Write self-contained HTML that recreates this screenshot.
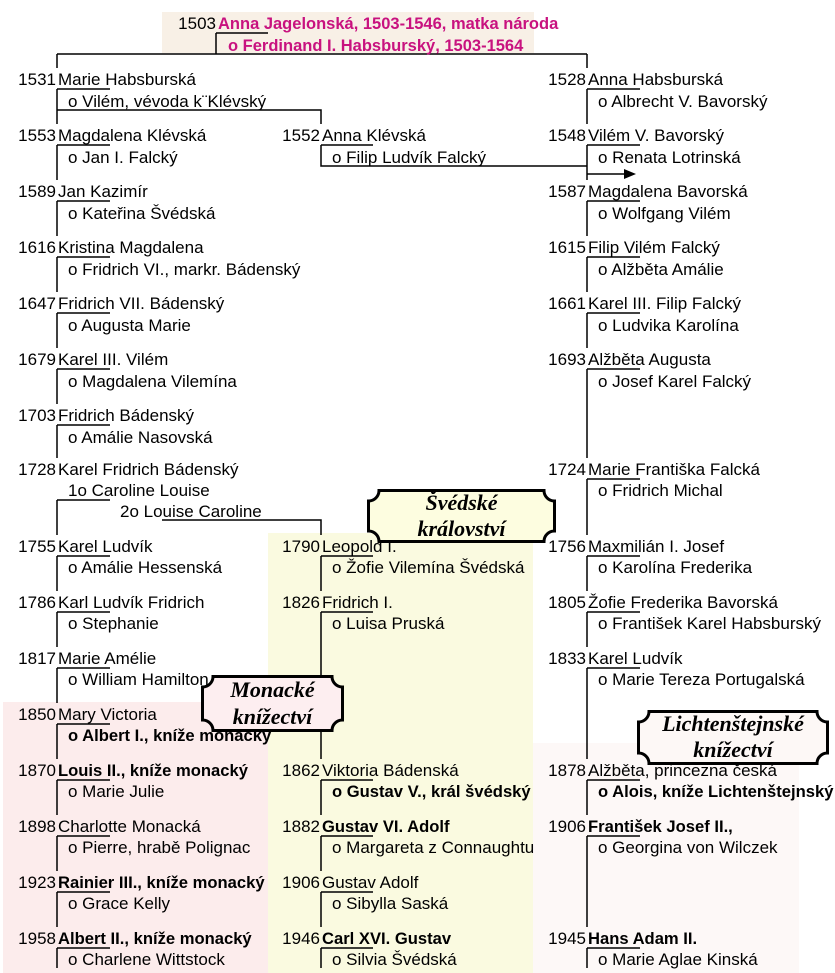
<!DOCTYPE html>
<html><head><meta charset="utf-8">
<style>
body{margin:0;background:#fff;}
#c{position:relative;width:835px;height:973px;overflow:hidden;font-family:"Liberation Sans",sans-serif;font-size:17px;color:#000;}
.t{position:absolute;line-height:20px;white-space:nowrap;margin-top:2px;}
.y{position:absolute;line-height:20px;width:50px;text-align:right;margin-top:2px;}
.b{font-weight:bold;font-size:16.6px;}
.m{color:#c8127f;font-weight:bold;font-size:16.5px;}
.ban{position:absolute;}
.ban div{position:absolute;left:0;width:100%;text-align:center;font-family:"Liberation Serif",serif;font-style:italic;font-weight:bold;font-size:22px;line-height:26px;}
</style></head><body>
<div id="c">
<div style="position:absolute;left:162px;top:12px;width:372px;height:41px;background:#f8f0e6"></div>
<div style="position:absolute;left:268px;top:533px;width:265px;height:440px;background:#fafae0"></div>
<div style="position:absolute;left:3px;top:702px;width:265px;height:271px;background:#fcecec"></div>
<div style="position:absolute;left:533px;top:743px;width:266px;height:230px;background:#fdf8f7"></div>

<svg style="position:absolute;left:0;top:0" width="835" height="973">
<path fill="none" stroke="#000" stroke-width="1.5" d="
M216 33H268M216 33V54M57 54H587M57 54V68M587 54V68
M57 89H110M57 89V124M57 145H110M57 145V180M57 201H110M57 201V236M57 257H110M57 257V292M57 313H110M57 313V348M57 369H110M57 369V404M57 425H110M57 425V458
M57 500H110M57 500V535
M57 556H110M57 556V591M57 612H110M57 612V647M57 668H110M57 668V703M57 724H110M57 724V759M57 780H110M57 780V815M57 836H110M57 836V871M57 892H110M57 892V927M57 948H110M57 948V968
M57 110H321V124M321 145H373M321 145V166H587
M162 520H321V535
M321 556H373M321 556V591M321 612H373M321 612V759M321 780H373M321 780V815M321 836H373M321 836V871M321 892H373M321 892V927M321 948H373M321 948V968
M587 89H640M587 89V124M587 145H640M587 145V180M587 201H640M587 201V236M587 257H640M587 257V292M587 313H640M587 313V348M587 369H640M587 369V458M587 479H640M587 479V535M587 556H640M587 556V591M587 612H640M587 612V647M587 668H640M587 668V759M587 780H640M587 780V815M587 836H640M587 836V927M587 948H640M587 948V968
M587 174H628"/>
<path d="M636 174L624 169V179Z" fill="#000"/>
</svg>

<div class="y" style="left:166px;top:12px">1503</div>
<div class="t m" style="left:218px;top:12px">Anna Jagelonská, 1503-1546, matka národa</div>
<div class="t m" style="left:228px;top:34px">o Ferdinand I. Habsburský, 1503-1564</div>

<div class="y" style="left:6px;top:68px">1531</div><div class="t" style="left:58px;top:68px">Marie Habsburská</div><div class="t" style="left:68px;top:90px">o Vilém, vévoda k¨Klévský</div>
<div class="y" style="left:6px;top:124px">1553</div><div class="t" style="left:58px;top:124px">Magdalena Klévská</div><div class="t" style="left:68px;top:146px">o Jan I. Falcký</div>
<div class="y" style="left:6px;top:180px">1589</div><div class="t" style="left:58px;top:180px">Jan Kazimír</div><div class="t" style="left:68px;top:202px">o Kateřina Švédská</div>
<div class="y" style="left:6px;top:236px">1616</div><div class="t" style="left:58px;top:236px">Kristina Magdalena</div><div class="t" style="left:68px;top:258px">o Fridrich VI., markr. Bádenský</div>
<div class="y" style="left:6px;top:292px">1647</div><div class="t" style="left:58px;top:292px">Fridrich VII. Bádenský</div><div class="t" style="left:68px;top:314px">o Augusta Marie</div>
<div class="y" style="left:6px;top:348px">1679</div><div class="t" style="left:58px;top:348px">Karel III. Vilém</div><div class="t" style="left:68px;top:370px">o Magdalena Vilemína</div>
<div class="y" style="left:6px;top:404px">1703</div><div class="t" style="left:58px;top:404px">Fridrich Bádenský</div><div class="t" style="left:68px;top:426px">o Amálie Nasovská</div>
<div class="y" style="left:6px;top:458px">1728</div><div class="t" style="left:58px;top:458px">Karel Fridrich Bádenský</div>
<div class="t" style="left:68px;top:479px">1o Caroline Louise</div>
<div class="t" style="left:120px;top:500px">2o Louise Caroline</div>
<div class="y" style="left:6px;top:535px">1755</div><div class="t" style="left:58px;top:535px">Karel Ludvík</div><div class="t" style="left:68px;top:556px">o Amálie Hessenská</div>
<div class="y" style="left:6px;top:591px">1786</div><div class="t" style="left:58px;top:591px">Karl Ludvík Fridrich</div><div class="t" style="left:68px;top:612px">o Stephanie</div>
<div class="y" style="left:6px;top:647px">1817</div><div class="t" style="left:58px;top:647px">Marie Amélie</div><div class="t" style="left:68px;top:668px">o William Hamilton</div>
<div class="y" style="left:6px;top:703px">1850</div><div class="t" style="left:58px;top:703px">Mary Victoria</div><div class="t b" style="left:68px;top:724px">o Albert I., kníže monacký</div>
<div class="y" style="left:6px;top:759px">1870</div><div class="t b" style="left:58px;top:759px">Louis II., kníže monacký</div><div class="t" style="left:68px;top:780px">o Marie Julie</div>
<div class="y" style="left:6px;top:815px">1898</div><div class="t" style="left:58px;top:815px">Charlotte Monacká</div><div class="t" style="left:68px;top:836px">o Pierre, hrabě Polignac</div>
<div class="y" style="left:6px;top:871px">1923</div><div class="t b" style="left:58px;top:871px">Rainier III., kníže monacký</div><div class="t" style="left:68px;top:892px">o Grace Kelly</div>
<div class="y" style="left:6px;top:927px">1958</div><div class="t b" style="left:58px;top:927px">Albert II., kníže monacký</div><div class="t" style="left:68px;top:948px">o Charlene Wittstock</div>

<div class="y" style="left:270px;top:124px">1552</div><div class="t" style="left:322px;top:124px">Anna Klévská</div><div class="t" style="left:332px;top:146px">o Filip Ludvík Falcký</div>
<div class="y" style="left:270px;top:535px">1790</div><div class="t" style="left:322px;top:535px">Leopold I.</div><div class="t" style="left:332px;top:556px">o Žofie Vilemína Švédská</div>
<div class="y" style="left:270px;top:591px">1826</div><div class="t" style="left:322px;top:591px">Fridrich I.</div><div class="t" style="left:332px;top:612px">o Luisa Pruská</div>
<div class="y" style="left:270px;top:759px">1862</div><div class="t" style="left:322px;top:759px">Viktoria Bádenská</div><div class="t b" style="left:332px;top:780px">o Gustav V., král švédský</div>
<div class="y" style="left:270px;top:815px">1882</div><div class="t b" style="left:322px;top:815px">Gustav VI. Adolf</div><div class="t" style="left:332px;top:836px">o Margareta z Connaughtu</div>
<div class="y" style="left:270px;top:871px">1906</div><div class="t" style="left:322px;top:871px">Gustav Adolf</div><div class="t" style="left:332px;top:892px">o Sibylla Saská</div>
<div class="y" style="left:270px;top:927px">1946</div><div class="t b" style="left:322px;top:927px">Carl XVI. Gustav</div><div class="t" style="left:332px;top:948px">o Silvia Švédská</div>

<div class="y" style="left:536px;top:68px">1528</div><div class="t" style="left:588px;top:68px">Anna Habsburská</div><div class="t" style="left:598px;top:90px">o Albrecht V. Bavorský</div>
<div class="y" style="left:536px;top:124px">1548</div><div class="t" style="left:588px;top:124px">Vilém V. Bavorský</div><div class="t" style="left:598px;top:146px">o Renata Lotrinská</div>
<div class="y" style="left:536px;top:180px">1587</div><div class="t" style="left:588px;top:180px">Magdalena Bavorská</div><div class="t" style="left:598px;top:202px">o Wolfgang Vilém</div>
<div class="y" style="left:536px;top:236px">1615</div><div class="t" style="left:588px;top:236px">Filip Vilém Falcký</div><div class="t" style="left:598px;top:258px">o Alžběta Amálie</div>
<div class="y" style="left:536px;top:292px">1661</div><div class="t" style="left:588px;top:292px">Karel III. Filip Falcký</div><div class="t" style="left:598px;top:314px">o Ludvika Karolína</div>
<div class="y" style="left:536px;top:348px">1693</div><div class="t" style="left:588px;top:348px">Alžběta Augusta</div><div class="t" style="left:598px;top:370px">o Josef Karel Falcký</div>
<div class="y" style="left:536px;top:458px">1724</div><div class="t" style="left:588px;top:458px">Marie Františka Falcká</div><div class="t" style="left:598px;top:479px">o Fridrich Michal</div>
<div class="y" style="left:536px;top:535px">1756</div><div class="t" style="left:588px;top:535px">Maxmilián I. Josef</div><div class="t" style="left:598px;top:556px">o Karolína Frederika</div>
<div class="y" style="left:536px;top:591px">1805</div><div class="t" style="left:588px;top:591px">Žofie Frederika Bavorská</div><div class="t" style="left:598px;top:612px">o František Karel Habsburský</div>
<div class="y" style="left:536px;top:647px">1833</div><div class="t" style="left:588px;top:647px">Karel Ludvík</div><div class="t" style="left:598px;top:668px">o Marie Tereza Portugalská</div>
<div class="y" style="left:536px;top:759px">1878</div><div class="t" style="left:588px;top:759px">Alžběta, princezna česká</div><div class="t b" style="left:598px;top:780px">o Alois, kníže Lichtenštejnský</div>
<div class="y" style="left:536px;top:815px">1906</div><div class="t b" style="left:588px;top:815px">František Josef II.,</div><div class="t" style="left:598px;top:836px">o Georgina von Wilczek</div>
<div class="y" style="left:536px;top:927px">1945</div><div class="t b" style="left:588px;top:927px">Hans Adam II.</div><div class="t" style="left:598px;top:948px">o Marie Aglae Kinská</div>

<div class="ban" style="left:367px;top:489px;width:189px;height:54px">
<svg width="189" height="54" style="position:absolute;left:0;top:0"><path d="M12 1.5H177A10.5 10.5 0 0 0 187.5 12V42A10.5 10.5 0 0 0 177 52.5H12A10.5 10.5 0 0 0 1.5 42V12A10.5 10.5 0 0 0 12 1.5Z" fill="#fdfde0" stroke="#000" stroke-width="3"/></svg>
<div style="top:1px">Švédské</div><div style="top:27px">království</div></div>

<div class="ban" style="left:201px;top:675px;width:143px;height:57px">
<svg width="143" height="57" style="position:absolute;left:0;top:0"><path d="M12 1.5H131A10.5 10.5 0 0 0 141.5 12V45A10.5 10.5 0 0 0 131 55.5H12A10.5 10.5 0 0 0 1.5 45V12A10.5 10.5 0 0 0 12 1.5Z" fill="#fdeef0" stroke="#000" stroke-width="3"/></svg>
<div style="top:2px">Monacké</div><div style="top:29px">knížectví</div></div>

<div class="ban" style="left:637px;top:710px;width:192px;height:55px">
<svg width="192" height="55" style="position:absolute;left:0;top:0"><path d="M12 1.5H180A10.5 10.5 0 0 0 190.5 12V43A10.5 10.5 0 0 0 180 53.5H12A10.5 10.5 0 0 0 1.5 43V12A10.5 10.5 0 0 0 12 1.5Z" fill="#fdf8f6" stroke="#000" stroke-width="3"/></svg>
<div style="top:1px">Lichtenštejnské</div><div style="top:27px">knížectví</div></div>
</div>
</body></html>
